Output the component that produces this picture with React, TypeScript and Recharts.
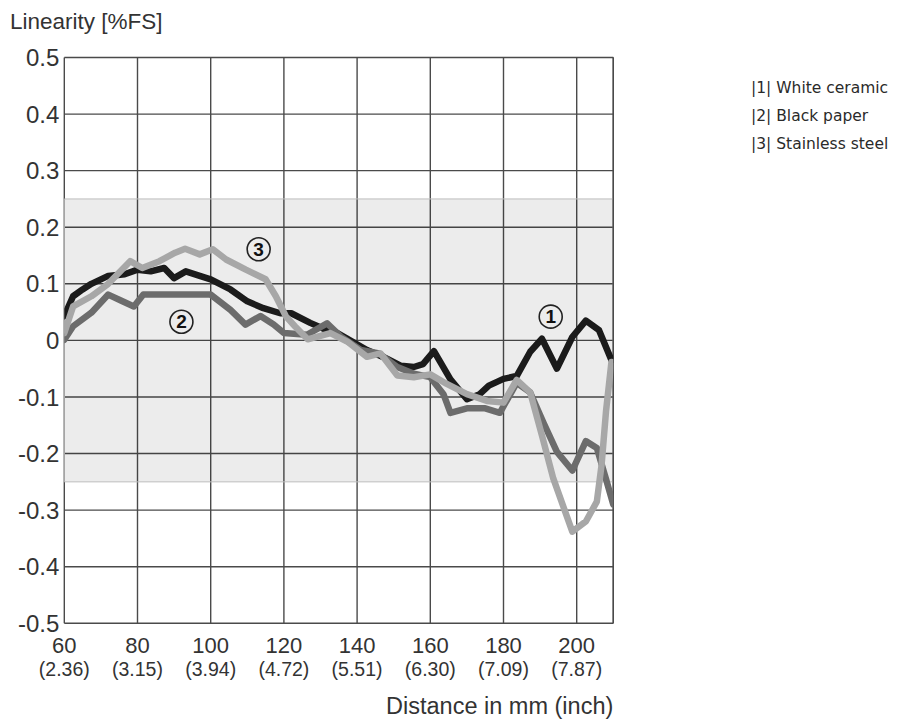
import React from 'react';
import {
  LineChart,
  Line,
  XAxis,
  YAxis,
  CartesianGrid,
  ReferenceArea,
  ReferenceLine,
  ReferenceDot,
  Legend,
} from 'recharts';

// Distance (mm) / linearity (%FS) pairs
const whiteCeramic = [
  { mm: 60, v: 0.043 }, { mm: 62.4, v: 0.078 }, { mm: 65, v: 0.09 }, { mm: 67.4, v: 0.1 },
  { mm: 72, v: 0.114 }, { mm: 76.5, v: 0.117 }, { mm: 80, v: 0.125 }, { mm: 83.6, v: 0.122 },
  { mm: 87.3, v: 0.128 }, { mm: 90, v: 0.11 }, { mm: 93.2, v: 0.122 }, { mm: 97, v: 0.114 },
  { mm: 100, v: 0.108 }, { mm: 105.4, v: 0.09 }, { mm: 110, v: 0.069 }, { mm: 114.4, v: 0.057 },
  { mm: 119, v: 0.048 }, { mm: 122, v: 0.048 }, { mm: 127.2, v: 0.031 }, { mm: 131, v: 0.02 },
  { mm: 134, v: 0.015 }, { mm: 137, v: 0.004 }, { mm: 142.7, v: -0.017 }, { mm: 148, v: -0.032 },
  { mm: 152, v: -0.045 }, { mm: 155.5, v: -0.047 }, { mm: 158, v: -0.042 }, { mm: 161, v: -0.019 },
  { mm: 165.5, v: -0.069 }, { mm: 170, v: -0.104 }, { mm: 173.5, v: -0.095 }, { mm: 176, v: -0.08 },
  { mm: 180, v: -0.068 }, { mm: 183.6, v: -0.063 }, { mm: 187.3, v: -0.02 }, { mm: 190.5, v: 0.003 },
  { mm: 194.6, v: -0.05 }, { mm: 198.8, v: 0.006 }, { mm: 202.5, v: 0.035 }, { mm: 206.1, v: 0.018 },
  { mm: 209.5, v: -0.035 },
];

const blackPaper = [
  { mm: 60, v: 0.001 }, { mm: 62.4, v: 0.025 }, { mm: 67.4, v: 0.049 }, { mm: 72, v: 0.081 },
  { mm: 75.6, v: 0.07 }, { mm: 79, v: 0.06 }, { mm: 81.6, v: 0.081 }, { mm: 90, v: 0.081 },
  { mm: 100, v: 0.081 }, { mm: 105.4, v: 0.054 }, { mm: 109.5, v: 0.028 }, { mm: 113.6, v: 0.043 },
  { mm: 117.2, v: 0.028 }, { mm: 120, v: 0.013 }, { mm: 126.3, v: 0.01 }, { mm: 131.8, v: 0.03 },
  { mm: 135.5, v: 0.007 }, { mm: 141, v: -0.017 }, { mm: 146, v: -0.023 }, { mm: 151, v: -0.047 },
  { mm: 155.5, v: -0.059 }, { mm: 160, v: -0.065 }, { mm: 163.6, v: -0.095 }, { mm: 165.5, v: -0.128 },
  { mm: 170, v: -0.12 }, { mm: 175, v: -0.12 }, { mm: 179, v: -0.128 }, { mm: 183.6, v: -0.075 },
  { mm: 187.3, v: -0.092 }, { mm: 190.9, v: -0.145 }, { mm: 194.6, v: -0.197 }, { mm: 198.8, v: -0.23 },
  { mm: 202.5, v: -0.178 }, { mm: 205.5, v: -0.19 }, { mm: 208, v: -0.245 }, { mm: 210, v: -0.29 },
];

const stainlessSteel = [
  { mm: 60, v: 0.013 }, { mm: 62.4, v: 0.06 }, { mm: 67.4, v: 0.078 }, { mm: 72, v: 0.1 },
  { mm: 78, v: 0.14 }, { mm: 81.3, v: 0.128 }, { mm: 86, v: 0.14 }, { mm: 90.3, v: 0.155 },
  { mm: 93, v: 0.162 }, { mm: 97, v: 0.152 }, { mm: 100.6, v: 0.161 }, { mm: 104.2, v: 0.143 },
  { mm: 109.6, v: 0.125 }, { mm: 115, v: 0.108 }, { mm: 117.8, v: 0.078 }, { mm: 120.5, v: 0.043 },
  { mm: 123, v: 0.025 }, { mm: 126.5, v: 0.002 }, { mm: 132.7, v: 0.013 }, { mm: 137.3, v: -0.002 },
  { mm: 142.7, v: -0.029 }, { mm: 146.4, v: -0.023 }, { mm: 151, v: -0.062 }, { mm: 155.5, v: -0.065 },
  { mm: 160, v: -0.06 }, { mm: 164.5, v: -0.077 }, { mm: 170, v: -0.095 }, { mm: 175.5, v: -0.107 },
  { mm: 180, v: -0.11 }, { mm: 183.6, v: -0.07 }, { mm: 187.3, v: -0.092 }, { mm: 190.5, v: -0.168 },
  { mm: 193.6, v: -0.244 }, { mm: 198.8, v: -0.338 }, { mm: 202.5, v: -0.32 }, { mm: 205.5, v: -0.285 },
  { mm: 206.8, v: -0.22 }, { mm: 208, v: -0.126 }, { mm: 209.5, v: -0.038 },
];

const xTicks = [60, 80, 100, 120, 140, 160, 180, 200];
const xInchLabels = ['(2.36)', '(3.15)', '(3.94)', '(4.72)', '(5.51)', '(6.30)', '(7.09)', '(7.87)'];
const yTicks = [-0.5, -0.4, -0.3, -0.2, -0.1, 0, 0.1, 0.2, 0.3, 0.4, 0.5];

const legendItems = ['|1| White ceramic', '|2| Black paper', '|3| Stainless steel'];
const markers = [
  { id: '1', mm: 192.9, v: 0.042 },
  { id: '2', mm: 92.0, v: 0.033 },
  { id: '3', mm: 113.1, v: 0.161 },
];

const AXIS_FONT = '"Liberation Sans", Arial, sans-serif';
const LEGEND_W = 147;

const XTick = (props: any) => {
  const { x, y, payload } = props;
  const idx = xTicks.indexOf(payload.value);
  return (
    <g>
      <text x={x} y={y + 30} textAnchor="middle" fontFamily={AXIS_FONT} fontSize={22} fill="#333">
        {payload.value}
      </text>
      <text x={x} y={y + 53} textAnchor="middle" fontFamily={AXIS_FONT} fontSize={19.5} fill="#333">
        {idx >= 0 ? xInchLabels[idx] : ''}
      </text>
    </g>
  );
};

const LegendContent = () => (
  <div style={{ fontFamily: '"DejaVu Sans", Verdana, sans-serif', fontSize: 15.5, lineHeight: '28px', color: '#2a2a2a' }}>
    {legendItems.map((t) => (
      <div key={t} style={{ whiteSpace: 'nowrap' }}>{t}</div>
    ))}
  </div>
);

export default function App() {
  return (
    <div style={{ position: 'absolute', left: 0, top: 0, width: 898, height: 723, background: '#fff' }}>
      <LineChart
        width={898}
        height={723}
        margin={{ top: 57.5, right: 284.7 - LEGEND_W, bottom: 39.7, left: 0 }}
      >
        <ReferenceArea
          x1={60}
          x2={210}
          y1={-0.25}
          y2={0.25}
          fill="#000"
          fillOpacity={0.075}
          stroke="#bdbdbd"
          strokeWidth={1}
          ifOverflow="visible"
        />
        <CartesianGrid stroke="#4a4a4a" strokeWidth={1.4} />
        <ReferenceLine x={210} stroke="#4a4a4a" strokeWidth={1.4} />
        <XAxis
          dataKey="mm"
          type="number"
          domain={[60, 210]}
          ticks={xTicks}
          allowDataOverflow
          axisLine={false}
          tickLine={false}
          tickSize={0}
          tickMargin={0}
          height={60}
          tick={<XTick />}
          label={(p: any) => {
            const vb = p.viewBox || {};
            return (
              <text
                x={(vb.x || 0) + (vb.width || 0)}
                y={(vb.y || 0) + 91}
                textAnchor="end"
                fontFamily={AXIS_FONT}
                fontSize={23.5}
                fill="#333"
              >
                Distance in mm (inch)
              </text>
            );
          }}
        />
        <YAxis
          type="number"
          domain={[-0.5, 0.5]}
          ticks={yTicks}
          width={64.3}
          axisLine={false}
          tickLine={false}
          tickSize={0}
          tickMargin={5}
          tickFormatter={(v: number) => (v === 0 ? '0' : v.toFixed(1))}
          tick={{ fontFamily: AXIS_FONT, fontSize: 24, fill: '#333' }}
          label={() => (
            <text x={10} y={29} textAnchor="start" fontFamily={AXIS_FONT} fontSize={22.5} fill="#333">
              Linearity [%FS]
            </text>
          )}
        />
        <Legend
          layout="vertical"
          verticalAlign="top"
          align="right"
          content={<LegendContent />}
          wrapperStyle={{ left: 751, top: 73.5, width: LEGEND_W }}
        />
        <Line
          data={whiteCeramic}
          dataKey="v"
          type="linear"
          stroke="#1b1b1b"
          strokeWidth={6.5}
          strokeLinejoin="round"
          strokeLinecap="round"
          dot={false}
          isAnimationActive={false}
          legendType="none"
        />
        <Line
          data={blackPaper}
          dataKey="v"
          type="linear"
          stroke="#6c6c6c"
          strokeWidth={6.5}
          strokeLinejoin="round"
          strokeLinecap="round"
          dot={false}
          isAnimationActive={false}
          legendType="none"
        />
        <Line
          data={stainlessSteel}
          dataKey="v"
          type="linear"
          stroke="#a7a7a7"
          strokeWidth={6.5}
          strokeLinejoin="round"
          strokeLinecap="round"
          dot={false}
          isAnimationActive={false}
          legendType="none"
        />
        {markers.map((m) => (
          <ReferenceDot
            key={m.id}
            x={m.mm}
            y={m.v}
            r={11.5}
            fill="none"
            stroke="#222"
            strokeWidth={1.6}
            label={{ value: m.id, position: 'center', fontFamily: AXIS_FONT, fontSize: 19, fill: '#111', fontWeight: 'bold' }}
          />
        ))}
      </LineChart>
    </div>
  );
}
